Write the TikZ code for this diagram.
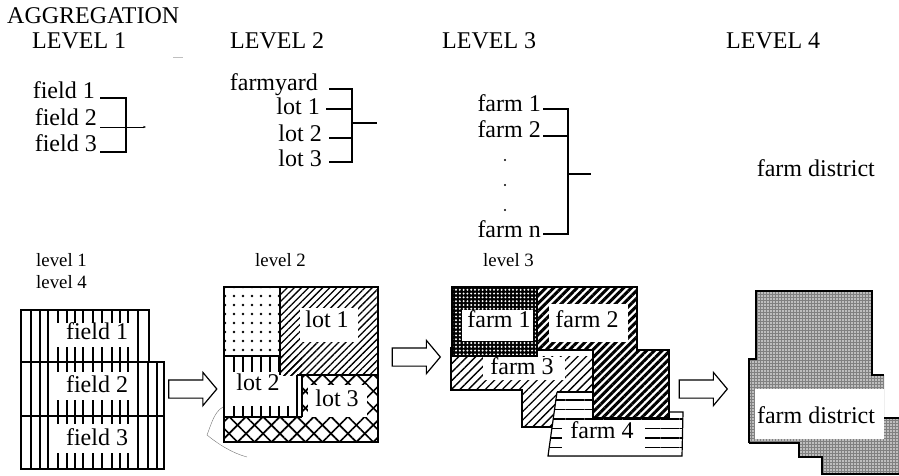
\documentclass[tikz,border=0pt]{standalone}
\usepackage{fontspec}
\setmainfont{Liberation Serif}
\usepackage{tikz}
\usetikzlibrary{shapes.arrows, arrows.meta, patterns.meta}
\tikzstyle{header} = [inner sep=0pt, anchor=base west, font=\fontsize{24}{24}\selectfont]
\tikzstyle{item} = [inner sep=0pt, anchor=base east, font=\fontsize{24}{24}\selectfont]
\tikzstyle{small} = [inner sep=0pt, anchor=base west, font=\fontsize{18.8}{20}\selectfont]
\tikzstyle{plot} = [inner sep=0pt, anchor=base, font=\fontsize{24}{24}\selectfont]
\tikzstyle{blockarrow} = [shape=single arrow,
single arrow head extend=7.5pt,
single arrow tip angle=100,
inner sep=8.5pt,
minimum height=48pt,
draw=black, line width=1.2pt, fill=white]
\tikzstyle{brk} = [line width=1.2pt]
\tikzstyle{edge} = [line width=2pt]
\tikzstyle{stripe} = [line width=1.7pt]
\tikzstyle{lotdots} = [pattern={Dots[radius=1.4pt,distance=9pt]}]
\tikzstyle{lotlines} = [pattern={Lines[angle=45,distance=5pt,line width=1.3pt]}]
\tikzstyle{darklines} = [pattern={Lines[angle=45,distance=5.5pt,line width=3pt]}]
\tikzstyle{lightlines} = [pattern={Lines[angle=45,distance=6pt,line width=1.3pt]}]
\tikzstyle{flatlines} = [pattern={Lines[angle=0,distance=9.5pt,line width=1.4pt]}]
\tikzstyle{grid} = [pattern={Lines[angle=45,distance=12pt,line width=1.7pt]}]
\tikzstyle{gridb} = [pattern={Lines[angle=-45,distance=12pt,line width=1.7pt]}]
\tikzstyle{checks} = [preaction={fill=black}, pattern color=white, pattern={Dots[radius=1.1pt,distance=3.8pt]}]
\tikzstyle{shade} = [preaction={fill=black!50}, pattern color=white, pattern={Dots[radius=.85pt,distance=3pt]}]

\begin{document}
\begin{tikzpicture}[x=1pt, y=-1pt]
            \useasboundingbox (0,0) rectangle (899,476);

            % headings
            \node (agg) [header] at (7,24) {AGGREGATION};
            \node (lev1) [header] at (32,49) {LEVEL 1};
            \node (lev2) [header] at (230,49) {LEVEL 2};
            \node (lev3) [header] at (442,49) {LEVEL 3};
            \node (lev4) [header] at (726,49) {LEVEL 4};
            \draw [black!25] (173,57) -- (183,57);

            % level 1 list
            \node (fld1) [item] at (95,99) {field 1};
            \node (fld2) [item] at (97,126) {field 2};
            \node (fld3) [item] at (97,151) {field 3};
            \coordinate (bus1a) at (126,98);
            \coordinate (bus1b) at (126,152);
            \coordinate (out1) at (146,127);
            \draw [brk] ([xshift=5pt,yshift=1pt]fld1.base east) -- (bus1a) -- (bus1b) -- ([xshift=3pt,yshift=-1pt]fld3.base east);
            \draw [-{Stealth[length=3pt]}] ([xshift=3pt,yshift=-1pt]fld2.base east) -- (out1);

            % level 2 list
            \node (yard) [item] at (318,91) {farmyard};
            \node (lot1) [item] at (320,115) {lot 1};
            \node (lot2) [item] at (322,142) {lot 2};
            \node (lot3) [item] at (322,166) {lot 3};
            \coordinate (bus2a) at (352,89);
            \coordinate (bus2b) at (352,162);
            \coordinate (bus2m) at (352,123);
            \coordinate (bus2l1) at (352,109);
            \coordinate (bus2l2) at (352,138);
            \coordinate (out2) at (377,123);
            \draw [brk] ([xshift=11pt,yshift=2pt]yard.base east) -- (bus2a) -- (bus2b) -- ([xshift=7pt,yshift=4pt]lot3.base east);
            \draw [brk] ([xshift=6pt,yshift=6pt]lot1.base east) -- (bus2l1);
            \draw [brk] ([xshift=7pt,yshift=4pt]lot2.base east) -- (bus2l2);
            \draw [brk] (bus2m) -- (out2);

            % level 3 list
            \node (frm1) [item] at (541,112) {farm 1};
            \node (frm2) [item] at (541,137) {farm 2};
            \node (frmn) [item] at (541,237) {farm n};
            \fill (505,160) circle (1.2pt) (505,185) circle (1.2pt) (505,210) circle (1.2pt);
            \coordinate (bus3a) at (568,109);
            \coordinate (bus3b) at (568,234);
            \coordinate (bus3m) at (568,174);
            \coordinate (bus3f) at (568,136);
            \coordinate (out3) at (591,174);
            \draw [brk] ([xshift=2pt,yshift=3pt]frm1.base east) -- (bus3a) -- (bus3b) -- ([xshift=2pt,yshift=3pt]frmn.base east);
            \draw [brk] ([xshift=2pt,yshift=1pt]frm2.base east) -- (bus3f);
            \draw [brk] (bus3m) -- (out3);

            % level 4 list
            \node (dist) [item] at (875,176) {farm district};

            \node (cap1) [small] at (36,266) {level 1};
            \node (cap4) [small] at (36,288) {level 4};
            \node (cap2) [small] at (255,266) {level 2};
            \node (cap3) [small] at (483,266) {level 3};

            % field map
            \foreach \x in {31,40,48,58,67,75,83,93,102,112,120,128,138}
                \draw [stripe] (\x,310) -- (\x,469);
            \foreach \x in {148,157}
                \draw [stripe] (\x,362) -- (\x,469);
            \fill [white] (49,323) rectangle (137,347);
            \fill [white] (49,372) rectangle (137,400);
            \fill [white] (49,424) rectangle (137,453);
            \draw [edge] (21,310) rectangle (149,362);
            \draw [edge] (21,362) rectangle (164,416);
            \draw [edge] (21,416) rectangle (164,469);
            \node (map11) [plot] at (97,339) {field 1};
            \node (map12) [plot] at (97,392) {field 2};
            \node (map13) [plot] at (97,445) {field 3};

            % lot map
            \fill [lotdots] (224,287) rectangle (280,356);
            \fill [lotlines] (280,287) rectangle (378,375);
            \fill [lotlines] (280,356) rectangle (302,375);
            \fill [white] (300,308) rectangle (358,342);
            \foreach \x in {234,243,252,261,270,279}
                \draw [stripe] (\x,356) -- (\x,372);
            \foreach \x in {234,243,252,261,270,279,288}
                \draw [stripe] (\x,406) -- (\x,417);
            \draw [stripe] (297,375) -- (297,417);
            \draw [stripe] (302,375) -- (302,417);
            \fill [grid] (224,417) rectangle (378,442);
            \fill [gridb] (224,417) rectangle (378,442);
            \fill [grid] (302,375) rectangle (378,417);
            \fill [gridb] (302,375) rectangle (378,417);
            \fill [white] (308,385) rectangle (367,417);
            \draw [edge] (224,287) rectangle (378,442);
            \draw [brk] (224,356) -- (280,356) -- (280,375);
            \draw [brk] (280,287) -- (280,356);
            \draw [brk] (297,375) -- (378,375);
            \draw [brk] (224,417) -- (302,417);
            \node (map21) [plot] at (327,327) {lot 1};
            \node (map22) [plot] at (258,390) {lot 2};
            \node (map23) [plot] at (337,406) {lot 3};
            \draw [black!55] (223,407) .. controls (214,412) and (211,425) .. (207,435) .. controls (218,444) and (232,453) .. (247,457);

            % farm map
            \fill [checks] (452,287) rectangle (537,356);
            \fill [white] (462,310) rectangle (533,341);
            \fill [lightlines] (451,356) -- (593,356) -- (593,392) -- (557,392) -- (552,427) -- (522,427) -- (522,390) -- (451,390) -- cycle;
            \fill [white] (483,357) rectangle (565,380);
            \fill [darklines] (537,287) -- (637,287) -- (637,350) -- (669,350) -- (669,418) -- (593,418) -- (593,350) -- (537,350) -- cycle;
            \fill [white] (549,304) rectangle (628,342);
            \fill [white] (557,392) -- (593,392) -- (593,418) -- (669,418) -- (669,412) -- (683,412) -- (682,456) -- (548,456) -- cycle;
            \begin{scope}
                \clip (557,392) -- (593,392) -- (593,418) -- (669,418) -- (669,412) -- (683,412) -- (682,456) -- (548,456) -- cycle;
                \fill [flatlines] (548,392) rectangle (683,456);
            \end{scope}
            \fill [white] (562,420) rectangle (645,456);
            \draw [edge] (452,287) rectangle (537,356);
            \draw [edge] (537,287) -- (637,287) -- (637,350) -- (669,350) -- (669,418) -- (593,418) -- (593,350) -- (537,350) -- cycle;
            \draw [brk] (451,347) -- (451,390) -- (522,390) -- (522,427) -- (552,427);
            \draw [brk] (557,392) -- (593,392);
            \draw [brk] (557,392) -- (548,456) -- (682,456) -- (683,412) -- (669,412);
            \node (map31) [plot] at (499,327) {farm 1};
            \node (map32) [plot] at (587,327) {farm 2};
            \node (map33) [plot] at (522,374) {farm 3};
            \node (map34) [plot] at (602,438) {farm 4};

            % district map
            \path [shade] (756,291) -- (872,291) -- (872,375) -- (884,375) -- (884,418) -- (899,418) -- (899,474) -- (822,474) -- (822,457) -- (799,457) -- (799,443) -- (749,443) -- (749,359) -- (756,359) -- cycle;
            \fill [white] (755,389) rectangle (884,439);
            \draw [brk] (749,443) -- (749,359) -- (756,359) -- (756,291) -- (872,291) -- (872,375) -- (884,375);
            \draw [brk] (884,418) -- (899,418);
            \draw [brk] (749,443) -- (799,443) -- (799,457) -- (822,457) -- (822,474) -- (899,474);
            \node (map41) [plot] at (816,423) {farm district};

            % arrows between the maps
            \node (step1) [blockarrow] at (189,389) {};
            \node (step2) [blockarrow] at (412.5,357) {};
            \node (step3) [blockarrow] at (699.5,389) {};
        \end{tikzpicture}
\end{document}
